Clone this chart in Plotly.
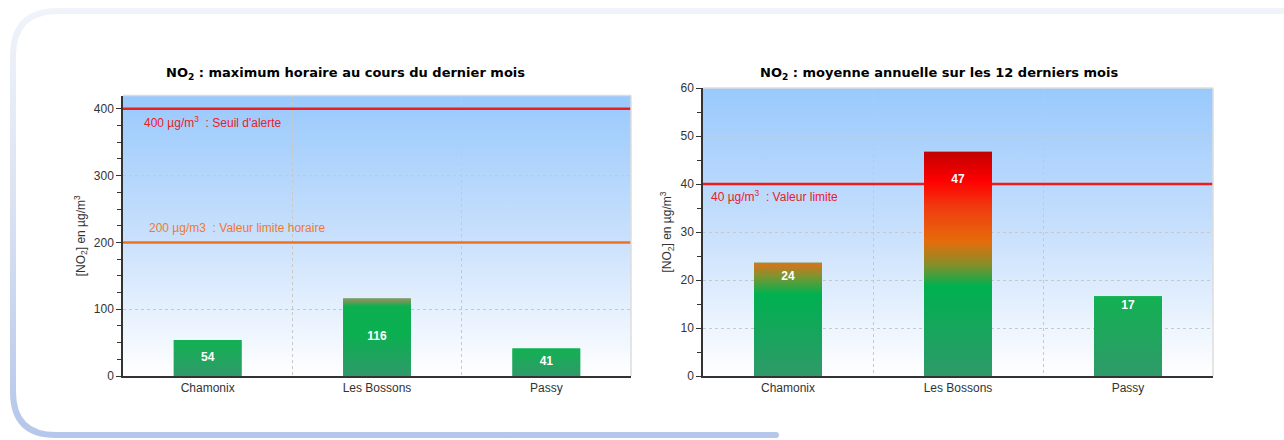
import base64
import plotly.graph_objects as go

# ---------------- data ----------------
sites = ["Chamonix", "Les Bossons", "Passy"]
max_horaire = [54, 116, 41]           # NO2 max horaire (µg/m3)
moy_annuelle = [23.6, 46.7, 16.6]     # NO2 moyenne annuelle (µg/m3)

seuil_alerte = 400
valeur_limite_horaire = 200
valeur_limite_annuelle = 40

title_left = "NO<sub>2</sub> : maximum horaire au cours du dernier mois"
title_right = "NO<sub>2</sub> : moyenne annuelle sur les 12 derniers mois"
ytitle = "[NO<sub>2</sub>] en µg/m<sup>3</sup>"
lbl_alerte = "400 µg/m<sup>3</sup>  : Seuil d'alerte"
lbl_lim_h = "200 µg/m3  : Valeur limite horaire"
lbl_lim_a = "40 µg/m<sup>3</sup>  : Valeur limite"

# ---------------- styles ----------------
GREEN_BOT = "#2f9a69"
GREEN = "#0bb050"
scales_left = [
    [[0, GREEN_BOT], [1, "#12b152"]],
    [[0, GREEN_BOT], [0.55, "#0aaf50"], [0.9, "#0db04f"], [1, "#a48c5c"]],
    [[0, GREEN_BOT], [1, "#12b152"]],
]
scales_right = [
    [[0, GREEN_BOT], [0.72, "#00b050"], [0.88, "#7c9530"], [1, "#e0701a"]],
    [[0, GREEN_BOT], [0.4, "#00b050"], [0.5, "#8a8d28"], [0.6, "#e46c0a"],
     [0.75, "#f03c10"], [0.87, "#ff0000"], [1, "#c20000"]],
    [[0, GREEN_BOT], [1, "#12b152"]],
]
BAR_W = 0.4
X_RANGE = [-0.5, 2.5]
RED = "#ee1c1c"
ORANGE = "#f07020"
FONT = "Liberation Sans, Arial, sans-serif"
TICK_FONT = dict(family=FONT, size=12, color="#333333")


def svg_uri(svg):
    return "data:image/svg+xml;base64," + base64.b64encode(svg.encode()).decode()


bg_svg = (
    '<svg xmlns="http://www.w3.org/2000/svg" width="100" height="100" '
    'viewBox="0 0 100 100" preserveAspectRatio="none">'
    '<defs><linearGradient id="g" x1="0" y1="0" x2="0" y2="1">'
    '<stop offset="0" stop-color="#99c9fd"/>'
    '<stop offset="0.5" stop-color="#c8e0fc"/>'
    '<stop offset="1" stop-color="#ffffff"/>'
    '</linearGradient></defs>'
    '<rect width="100" height="100" fill="url(#g)"/></svg>'
)

frame_svg = (
    '<svg xmlns="http://www.w3.org/2000/svg" width="1284" height="440" '
    'viewBox="0 0 1284 440" preserveAspectRatio="none">'
    '<defs><linearGradient id="f" gradientUnits="userSpaceOnUse" x1="0" y1="0" x2="0" y2="440">'
    '<stop offset="0" stop-color="#f1f4fa"/>'
    '<stop offset="0.45" stop-color="#dbe3f3"/>'
    '<stop offset="1" stop-color="#b4c6ea"/>'
    '</linearGradient></defs>'
    '<path d="M 776 435 L 56 435 Q 13 435 13 392 L 13 56 Q 13 11 58 11 L 1300 11" '
    'fill="none" stroke="url(#f)" stroke-width="6" stroke-linecap="round"/></svg>'
)

fig = go.Figure()


def add_panel(values, scales, xa, ya, label_pos, thresholds):
    xs = list(range(len(sites)))
    fig.add_trace(go.Bar(
        x=xs, y=values, width=BAR_W, marker=dict(color=GREEN, line=dict(width=0)),
        xaxis=xa, yaxis=ya, showlegend=False, hoverinfo="y",
    ))
    # threshold lines (drawn beneath the gradient bars)
    for level, color in thresholds:
        fig.add_trace(go.Scatter(
            x=X_RANGE, y=[level, level], mode="lines",
            line=dict(color=color, width=2.5), cliponaxis=False,
            xaxis=xa, yaxis=ya, showlegend=False, hoverinfo="skip",
        ))
    for i, v in enumerate(values):
        fig.add_trace(go.Scatter(
            x=[i - BAR_W / 2, i + BAR_W / 2, i + BAR_W / 2, i - BAR_W / 2, i - BAR_W / 2],
            y=[0, 0, v, v, 0],
            mode="lines", fill="toself", line=dict(width=0, color="rgba(0,0,0,0)"),
            fillgradient=dict(type="vertical", colorscale=scales[i]),
            xaxis=xa, yaxis=ya, showlegend=False, hoverinfo="skip",
        ))
    fig.add_trace(go.Scatter(
        x=xs, y=[label_pos(v) for v in values], mode="text",
        text=[f"{v:.0f}" for v in values],
        textfont=dict(family=FONT, size=12, color="white", weight="bold"),
        xaxis=xa, yaxis=ya, showlegend=False, hoverinfo="skip",
    ))


add_panel(max_horaire, scales_left, "x", "y", lambda v: v / 2,
          [(seuil_alerte, RED), (valeur_limite_horaire, ORANGE)])
add_panel(moy_annuelle, scales_right, "x2", "y2", lambda v: v * 0.875,
          [(valeur_limite_annuelle, RED)])

W, H = 1284, 440
L1, R1, T1 = 123, 631, 95.5
L2, R2, T2 = 703, 1213, 88
B = 376

xcommon = dict(
    range=X_RANGE, tickmode="array", tickvals=[0, 1, 2], ticktext=sites,
    showgrid=False, zeroline=False, showline=True, linecolor="#333333", linewidth=1.5,
    ticks="", tickfont=TICK_FONT, fixedrange=True, automargin=False,
    minor=dict(tickmode="array", tickvals=[0.5, 1.5], showgrid=True,
               gridcolor="#c8c8c8", griddash="dot", gridwidth=1, ticks=""),
)
ycommon = dict(
    showgrid=True, gridcolor="#c8c8c8", griddash="dot", gridwidth=1,
    zeroline=False, showline=True, linecolor="#333333", linewidth=1.5,
    ticks="outside", ticklen=5, tickcolor="#333333", tickfont=TICK_FONT,
    fixedrange=True, automargin=False,
    title=dict(text=ytitle, font=dict(family=FONT, size=12, color="#333333"), standoff=6),
)


def edge(xref, yref, x0, x1, y0, y1):
    return dict(type="line", xref=xref, yref=yref, x0=x0, x1=x1, y0=y0, y1=y1,
                line=dict(color="#dcdcdc", width=1.5), layer="above")


fig.update_layout(
    width=W, height=H, margin=dict(l=0, r=0, t=0, b=0, autoexpand=False),
    paper_bgcolor="white", plot_bgcolor="rgba(0,0,0,0)", showlegend=False,
    xaxis=dict(domain=[L1 / W, R1 / W], anchor="y", **xcommon),
    yaxis=dict(domain=[(H - B) / H, (H - T1) / H], anchor="x", range=[0, 420],
               tickvals=[0, 100, 200, 300, 400],
               minor=dict(dtick=25, ticks="outside", ticklen=4, tickcolor="#333333",
                          showgrid=False),
               **ycommon),
    xaxis2=dict(domain=[L2 / W, R2 / W], anchor="y2", **xcommon),
    yaxis2=dict(domain=[(H - B) / H, (H - T2) / H], anchor="x2", range=[0, 60],
                tickvals=[0, 10, 20, 30, 40, 50, 60],
                minor=dict(dtick=5, ticks="outside", ticklen=4, tickcolor="#333333",
                           showgrid=False),
                **ycommon),
    images=[
        dict(source=svg_uri(frame_svg), xref="paper", yref="paper", x=0, y=1,
             sizex=1, sizey=1, xanchor="left", yanchor="top", sizing="stretch",
             layer="below"),
        dict(source=svg_uri(bg_svg), xref="x domain", yref="y domain", x=0, y=1,
             sizex=1, sizey=1, xanchor="left", yanchor="top", sizing="stretch",
             layer="below"),
        dict(source=svg_uri(bg_svg), xref="x2 domain", yref="y2 domain", x=0, y=1,
             sizex=1, sizey=1, xanchor="left", yanchor="top", sizing="stretch",
             layer="below"),
    ],
    shapes=[
        edge("x domain", "y domain", 0, 1, 1, 1),
        edge("x domain", "y domain", 1, 1, 0, 1),
        edge("x2 domain", "y2 domain", 0, 1, 1, 1),
        edge("x2 domain", "y2 domain", 1, 1, 0, 1),
    ],
    annotations=[
        dict(text=title_left, xref="paper", yref="paper", x=345 / W, y=(H - 73) / H,
             xanchor="center", yanchor="middle", showarrow=False,
             font=dict(family="DejaVu Sans, Verdana, sans-serif", size=13,
                       color="#000000", weight="bold")),
        dict(text=title_right, xref="paper", yref="paper", x=939 / W, y=(H - 73) / H,
             xanchor="center", yanchor="middle", showarrow=False,
             font=dict(family="DejaVu Sans, Verdana, sans-serif", size=13,
                       color="#000000", weight="bold")),
        dict(text=lbl_alerte, xref="x domain", yref="y", x=19 / (R1 - L1), y=seuil_alerte,
             yshift=-13, xanchor="left", yanchor="middle", showarrow=False,
             font=dict(family=FONT, size=12, color="#e8202a")),
        dict(text=lbl_lim_h, xref="x domain", yref="y", x=24 / (R1 - L1),
             y=valeur_limite_horaire, yshift=14, xanchor="left", yanchor="middle",
             showarrow=False, font=dict(family=FONT, size=12, color="#f07a30")),
        dict(text=lbl_lim_a, xref="x2 domain", yref="y2", x=6 / (R2 - L2),
             y=valeur_limite_annuelle, yshift=-12, xanchor="left", yanchor="middle",
             showarrow=False, font=dict(family=FONT, size=12, color="#e8202a")),
    ],
)

fig.write_html("out.html", config={"displayModeBar": False},
               post_script="document.body.style.margin='0';document.body.style.overflow='hidden';")
